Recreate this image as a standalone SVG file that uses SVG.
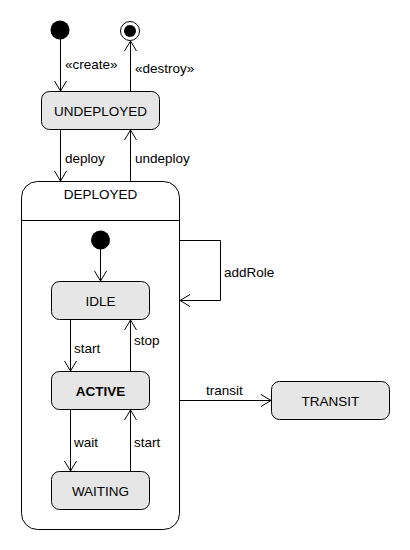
<svg xmlns="http://www.w3.org/2000/svg" width="410" height="550" viewBox="0 0 410 550">
<style>
text{font-family:"Liberation Sans",Arial,sans-serif;font-size:13.5px;fill:#000}
.name{text-anchor:middle}
.bold{font-weight:bold}
.state{fill:#e6e6e6;stroke:#000;stroke-width:1}
.comp{fill:#fff;stroke:#000;stroke-width:1}
.edge{fill:none;stroke:#000;stroke-width:1}
</style>
<defs>
<marker id="open" viewBox="0 0 12 14" refX="11" refY="7" markerWidth="12" markerHeight="14" markerUnits="userSpaceOnUse" orient="auto">
<path d="M1,1 L11,7 L1,13" fill="none" stroke="#000" stroke-width="1"/>
</marker>
</defs>
<rect width="410" height="550" fill="#fff"/>
<g id="initial1"><circle cx="60" cy="30" r="9.5" fill="#000"/></g>
<g id="final"><circle cx="130" cy="31" r="9.5" fill="#fff" stroke="#000" stroke-width="1"/><circle cx="130" cy="31" r="6" fill="#000"/></g>
<g id="UNDEPLOYED"><rect class="state" x="41.5" y="91.5" width="118" height="38" rx="8"/><text class="name" x="100.5" y="115.5">UNDEPLOYED</text></g>
<g id="DEPLOYED">
<rect class="comp" x="21.5" y="181.5" width="158" height="348" rx="16"/>
<line class="edge" x1="21.5" y1="220.5" x2="179.5" y2="220.5"/>
<text class="name" x="100.5" y="199">DEPLOYED</text>
</g>
<g id="initial2"><circle cx="100.5" cy="240" r="9.5" fill="#000"/></g>
<g id="IDLE"><rect class="state" x="51.5" y="281.5" width="98" height="38" rx="8"/><text class="name" x="100.5" y="305.5">IDLE</text></g>
<g id="ACTIVE"><rect class="state" x="51.5" y="371.5" width="98" height="38" rx="8"/><text class="name bold" x="100.5" y="395.5">ACTIVE</text></g>
<g id="WAITING"><rect class="state" x="51.5" y="471.5" width="98" height="38" rx="8"/><text class="name" x="100.5" y="495.5">WAITING</text></g>
<g id="TRANSIT"><rect class="state" x="271.5" y="381.5" width="118" height="38" rx="8"/><text class="name" x="330.5" y="405.5">TRANSIT</text></g>
<g id="connectors">
<line class="edge" x1="60.5" y1="39" x2="60.5" y2="91" marker-end="url(#open)"/>
<text x="65" y="69">«create»</text>
<line class="edge" x1="130.5" y1="91" x2="130.5" y2="41" marker-end="url(#open)"/>
<text x="135" y="73">«destroy»</text>
<line class="edge" x1="60.5" y1="129.5" x2="60.5" y2="181" marker-end="url(#open)"/>
<text x="65" y="163">deploy</text>
<line class="edge" x1="130.5" y1="181" x2="130.5" y2="130" marker-end="url(#open)"/>
<text x="135" y="163">undeploy</text>
<line class="edge" x1="100.5" y1="249" x2="100.5" y2="281" marker-end="url(#open)"/>
<line class="edge" x1="70.5" y1="319.5" x2="70.5" y2="371" marker-end="url(#open)"/>
<text x="74" y="353">start</text>
<line class="edge" x1="130.5" y1="371" x2="130.5" y2="320" marker-end="url(#open)"/>
<text x="134" y="345">stop</text>
<line class="edge" x1="70.5" y1="409.5" x2="70.5" y2="471" marker-end="url(#open)"/>
<text x="74" y="447">wait</text>
<line class="edge" x1="130.5" y1="471" x2="130.5" y2="410" marker-end="url(#open)"/>
<text x="134" y="447">start</text>
<polyline class="edge" points="179.5,240.5 220.5,240.5 220.5,300.5 180,300.5" marker-end="url(#open)"/>
<text x="224" y="277">addRole</text>
<line class="edge" x1="179.5" y1="400.5" x2="271" y2="400.5" marker-end="url(#open)"/>
<text x="206" y="395">transit</text>
</g>
</svg>
